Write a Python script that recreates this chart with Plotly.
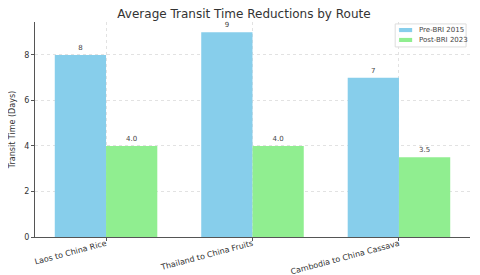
import plotly.graph_objects as go

routes = ["Laos to China Rice", "Thailand to China Fruits", "Cambodia to China Cassava"]
pre_bri = [8, 9, 7]
post_bri = [4.0, 4.0, 3.5]
pre_labels = ["8", "9", "7"]
post_labels = ["4.0", "4.0", "3.5"]
series_names = ["Pre-BRI 2015", "Post-BRI 2023"]
series_colors = ["#87CEEB", "#90EE90"]

x = list(range(len(routes)))
w = 0.35

fig = go.Figure()
fig.add_trace(go.Bar(
    x=[i - w / 2 for i in x], y=pre_bri, width=w, name=series_names[0],
    marker=dict(color=series_colors[0], line=dict(width=0)),
    text=pre_labels, textposition="outside", cliponaxis=False,
    textfont=dict(size=7, color="#444"),
))
fig.add_trace(go.Bar(
    x=[i + w / 2 for i in x], y=post_bri, width=w, name=series_names[1],
    marker=dict(color=series_colors[1], line=dict(width=0)),
    text=post_labels, textposition="outside", cliponaxis=False,
    textfont=dict(size=7, color="#444"),
))

# custom compact legend (paper coords of plot area)
shapes = [dict(type="rect", xref="paper", yref="paper", x0=0.828, x1=0.991, y0=0.884, y1=0.991,
               line=dict(color="#ddd", width=1), fillcolor="rgba(255,255,255,0.8)", layer="above")]
annotations = []
sw_y = [(0.953, 0.972), (0.907, 0.926)]
txt_y = [0.963, 0.916]
for k in range(2):
    shapes.append(dict(type="rect", xref="paper", yref="paper", x0=0.837, x1=0.867,
                       y0=sw_y[k][0], y1=sw_y[k][1], line=dict(width=0),
                       fillcolor=series_colors[k], layer="above"))
    annotations.append(dict(xref="paper", yref="paper", x=0.878, y=txt_y[k], text=series_names[k],
                            showarrow=False, xanchor="left", yanchor="middle",
                            font=dict(size=7, color="#444")))

# page body has an 8px default margin; size the figure so the plot sits where the reference's does
fig.update_layout(
    width=472, height=267,
    margin=dict(l=27, r=10, t=14, b=38),
    paper_bgcolor="white", plot_bgcolor="white",
    font=dict(family="DejaVu Sans", size=8, color="#333"),
    title=dict(text="Average Transit Time Reductions by Route", x=0.5, xanchor="center",
               y=0.978, yanchor="middle", font=dict(size=12, color="#333")),
    barmode="overlay",
    showlegend=False,
    shapes=shapes,
    annotations=annotations,
    xaxis=dict(
        range=[-0.485, 2.485], tickmode="array", tickvals=x, ticktext=routes,
        tickangle=-15, showgrid=True, gridcolor="#e2e2e2", griddash="dot",
        showline=True, linecolor="#555", ticks="outside", ticklen=3, tickcolor="#555",
        tickfont=dict(size=8), zeroline=False, automargin=False,
        ticklabelstandoff=-5,
    ),
    yaxis=dict(
        range=[0, 9.45], tickvals=[0, 2, 4, 6, 8],
        showgrid=True, gridcolor="#e2e2e2", griddash="dot",
        showline=True, linecolor="#555", ticks="outside", ticklen=3, tickcolor="#555",
        tickfont=dict(size=8), zeroline=False, automargin=False,
        title=dict(text="Transit Time (Days)", font=dict(size=8), standoff=8),
    ),
)

fig.write_html("out.html")
